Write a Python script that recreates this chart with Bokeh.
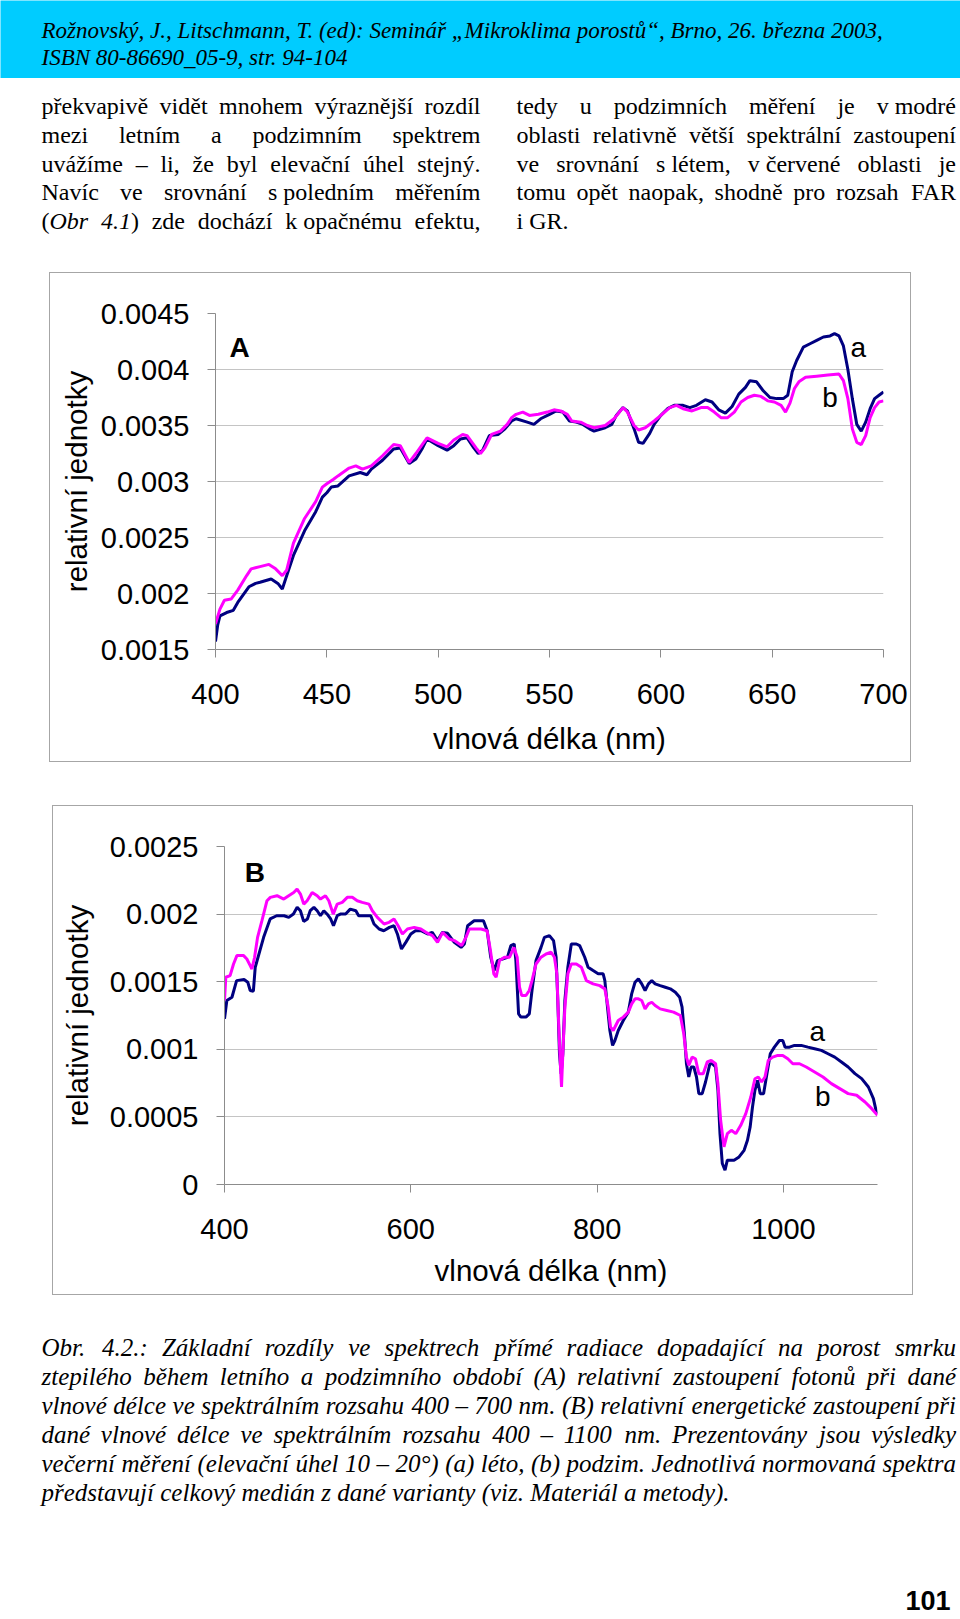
import unicodedata
from bokeh.plotting import figure
from bokeh.layouts import column, row
from bokeh.models import Range1d, FixedTicker, NumeralTickFormatter, Label, ColumnDataSource, Spacer
from bokeh.core.properties import value
from bokeh.embed import file_html
from bokeh.resources import INLINE

# ---------------- data: chart A (400-700 nm) ----------------
A_a_nm = [400, 401, 402, 405, 408, 410, 415, 418, 420, 425, 428, 430, 432, 435, 440, 445, 448, 450, 452, 455,
          460, 465, 468, 470, 475, 480, 483, 487, 490, 493, 495, 500, 504, 507, 510, 513, 516, 518, 520, 523,
          527, 530, 533, 535, 540, 543, 546, 550, 553, 556, 559, 562, 565, 568, 570, 575, 578, 580, 583, 585,
          588, 590, 592, 595, 597, 600, 603, 606, 610, 613, 616, 620, 623, 626, 629, 632, 635, 638, 640, 643,
          646, 649, 652, 655, 657, 659, 661, 664, 667, 670, 673, 676, 678, 680, 682, 684, 686, 688, 690, 692,
          694, 696, 698, 700]
A_a_val = [0.00157, 0.00172, 0.0018, 0.00183, 0.00185, 0.00192, 0.00206, 0.00209, 0.0021, 0.00213, 0.00209,
           0.00204, 0.00216, 0.00234, 0.00256, 0.00273, 0.00286, 0.0029, 0.00295, 0.00296, 0.00305, 0.00308,
           0.00306, 0.00311, 0.00319, 0.00329, 0.0033, 0.00316, 0.0032, 0.0033, 0.00338, 0.00332, 0.00328,
           0.00332, 0.00338, 0.00339, 0.0033, 0.00325, 0.00328, 0.00341, 0.00342, 0.00347, 0.00354, 0.00356,
           0.00353, 0.00351, 0.00356, 0.0036, 0.00363, 0.00362, 0.00354, 0.00353, 0.00351, 0.00347, 0.00345,
           0.00348, 0.00351, 0.00359, 0.00366, 0.00363, 0.00347, 0.00335, 0.00334, 0.00343, 0.00351, 0.00359,
           0.00365, 0.00368, 0.00368, 0.00366, 0.00368, 0.00373, 0.00371, 0.00364, 0.00361, 0.00367, 0.00378,
           0.00384, 0.0039, 0.00389, 0.00381, 0.00375, 0.00374, 0.00374, 0.00377, 0.00398, 0.00408, 0.0042,
           0.00423, 0.00426, 0.00429, 0.0043, 0.00432, 0.0043, 0.00421, 0.004, 0.00374, 0.00351, 0.00345,
           0.00353, 0.00365, 0.00374, 0.00377, 0.0038]
A_b_nm = [400, 402, 404, 407, 410, 414, 416, 420, 424, 427, 430, 432, 435, 440, 445, 448, 450, 453, 455, 460,
          463, 466, 470, 475, 480, 483, 487, 490, 495, 500, 504, 507, 511, 513, 517, 519, 521, 524, 528, 531,
          533, 535, 538, 541, 545, 549, 552, 555, 558, 560, 564, 567, 570, 575, 579, 583, 585, 588, 590, 593,
          597, 600, 604, 607, 610, 614, 618, 621, 624, 627, 630, 633, 636, 639, 642, 645, 648, 651, 654, 656,
          658, 660, 662, 665, 670, 675, 680, 682, 684, 686, 688, 690, 692, 694, 696, 698, 700]
A_b_val = [0.00173, 0.00186, 0.00194, 0.00195, 0.00203, 0.00216, 0.00222, 0.00224, 0.00226, 0.00222, 0.00216,
           0.00221, 0.00245, 0.00267, 0.00282, 0.00295, 0.00298, 0.00302, 0.00305, 0.00312, 0.00314, 0.00311,
           0.00314, 0.00323, 0.00333, 0.00332, 0.00317, 0.00325, 0.00339, 0.00334, 0.00331, 0.00337, 0.00342,
           0.00341, 0.0033, 0.00325, 0.0033, 0.00342, 0.00345, 0.00351, 0.00357, 0.0036, 0.00362, 0.00359,
           0.0036, 0.00362, 0.00364, 0.00363, 0.0036, 0.00354, 0.00353, 0.0035, 0.00348, 0.0035, 0.00356,
           0.00366, 0.00362, 0.0035, 0.00346, 0.00348, 0.00354, 0.00359, 0.00366, 0.00368, 0.00365, 0.00363,
           0.00366, 0.00366, 0.00362, 0.00357, 0.00357, 0.00362, 0.00371, 0.00375, 0.00377, 0.00376, 0.00372,
           0.00371, 0.00368, 0.00362, 0.0037, 0.00383, 0.00389, 0.00393, 0.00394, 0.00395, 0.00396, 0.0039,
           0.00374, 0.00347, 0.00335, 0.00333, 0.00341, 0.00357, 0.00366, 0.00371, 0.00372]

A_xticks = [400, 450, 500, 550, 600, 650, 700]
A_yticks = [0.0015, 0.002, 0.0025, 0.003, 0.0035, 0.004, 0.0045]
A_ylabels = ["0.0015", "0.002", "0.0025", "0.003", "0.0035", "0.004", "0.0045"]

# ---------------- data: chart B (400-1100 nm) ----------------
B_a_nm = [400, 402.5, 408, 413, 421, 425, 427.6, 431, 433, 438, 442, 449, 456, 464, 469, 474, 478, 481.5, 485,
          489, 492, 496, 499.5, 503, 506.6, 510, 514, 517, 521, 525, 530, 535, 541, 544, 550, 557, 560.5, 566,
          571, 577, 582, 585.6, 590, 594.6, 600, 605, 611, 618, 623, 628.7, 634, 639.5, 646.7, 654, 657.5, 661,
          668, 678, 682, 685.8, 689.4, 693, 698.4, 703.8, 707.4, 711, 712.8, 715.7, 718.2, 723.6, 727.2, 730.1,
          734.4, 739.8, 743.4, 748.8, 753.2, 756, 757.8, 759.6, 761.4, 763.2, 765.4, 768.6, 772.3, 777.7,
          781.3, 786.7, 790.3, 795.7, 801.1, 806.5, 808.3, 810.8, 813.7, 816.6, 819.1, 822.7, 828.1, 833.5,
          837.1, 840.7, 844.3, 847.9, 851.5, 855.1, 858.7, 862.3, 867.7, 873.2, 878.6, 884, 888.6, 891.2,
          893.7, 895.9, 898.4, 900.9, 903.8, 906.7, 909.2, 912.8, 916.4, 921.1, 923.6, 927.2, 929.7, 931.9,
          934.4, 937.3, 939.8, 943.4, 947, 952.4, 957.8, 961.4, 964.3, 966.8, 969.4, 972.3, 975.1, 978.7,
          982.3, 985.9, 990.3, 995.7, 999.3, 1001.8, 1006.5, 1011.9, 1019.1, 1026.3, 1033.5, 1040.7, 1047.9,
          1055.1, 1062.3, 1069.5, 1076.8, 1084, 1091.2, 1096.6, 1100.2]
B_a_val = [0.001225, 0.001361, 0.001385, 0.001508, 0.001516, 0.001496, 0.001435, 0.00143, 0.001607, 0.00173,
           0.001828, 0.001964, 0.001988, 0.001988, 0.001976, 0.002001, 0.00205, 0.002025, 0.001946, 0.001964,
           0.002025, 0.00205, 0.002025, 0.001988, 0.002025, 0.002001, 0.001964, 0.001914, 0.001988, 0.002001,
           0.002001, 0.002037, 0.002025, 0.001988, 0.001988, 0.001988, 0.001927, 0.00189, 0.001877, 0.001902,
           0.001914, 0.001853, 0.001742, 0.001791, 0.001853, 0.001877, 0.001877, 0.001853, 0.001865, 0.001804,
           0.001865, 0.001858, 0.001791, 0.001754, 0.001779, 0.001914, 0.001951, 0.001951, 0.001877, 0.001681,
           0.001582, 0.001656, 0.001668, 0.001681, 0.001767, 0.001779, 0.001656, 0.001262, 0.001238, 0.001238,
           0.001262, 0.001435, 0.001656, 0.001754, 0.001828, 0.001841, 0.001804, 0.001681, 0.001361, 0.000967,
           0.000819, 0.000967, 0.001361, 0.001607, 0.001779, 0.001779, 0.001767, 0.001681, 0.001607, 0.001582,
           0.001558, 0.001558, 0.001508, 0.001336, 0.001139, 0.001029, 0.001065, 0.001139, 0.001213, 0.001275,
           0.00141, 0.001496, 0.001521, 0.001484, 0.001435, 0.001484, 0.001508, 0.001484, 0.001471, 0.001459,
           0.001447, 0.001422, 0.001385, 0.001312, 0.001115, 0.000893, 0.000795, 0.000869, 0.000869, 0.000795,
           0.000672, 0.000672, 0.000758, 0.000893, 0.000893, 0.000869, 0.000696, 0.000376, 0.000155, 0.000106,
           0.00018, 0.00018, 0.00018, 0.000204, 0.000253, 0.000327, 0.000426, 0.000573, 0.000696, 0.00077,
           0.000672, 0.000672, 0.000819, 0.000967, 0.001016, 0.001065, 0.001065, 0.001016, 0.001016, 0.001029,
           0.001029, 0.001016, 0.001004, 0.000992, 0.000967, 0.000942, 0.000906, 0.000869, 0.00082, 0.000783,
           0.000721, 0.000635, 0.000524]
B_b_nm = [400, 401.4, 406, 409.7, 413.3, 420.5, 424, 427.6, 429.4, 432.3, 435.5, 440.2, 445.6, 449.2, 456.4,
          463.6, 468.9, 474.3, 477.9, 481.5, 485.1, 488.7, 494.1, 499.5, 503, 508.4, 512, 516.7, 521, 526.4,
          531.8, 537.2, 542.5, 547.9, 555.1, 558.7, 564.1, 571.3, 576.7, 582, 586.4, 591, 596.4, 603.6, 610.8,
          616.2, 623.3, 628.7, 634.1, 641.3, 646.7, 654.6, 659.2, 662.8, 668.2, 675.4, 681.9, 685.5, 689.1,
          691.6, 695.2, 700.6, 706, 710.7, 714.2, 716.7, 719, 723.6, 727.2, 730.1, 734.4, 739.8, 745.2, 750.6,
          754.2, 756.8, 758.9, 760.7, 761.8, 763.2, 765.4, 768.6, 772.3, 777.7, 783.1, 788.5, 795.7, 802.9,
          808.3, 811.9, 814.4, 817.3, 822.7, 828.1, 833.5, 837.1, 840.7, 844.3, 847.9, 851.5, 855.1, 858.7,
          862.3, 867.7, 874.9, 882.1, 889.4, 893, 895.9, 898.4, 902, 905.6, 909.2, 913.9, 918.2, 922.5, 927.2,
          929.7, 932.6, 936.2, 939.8, 944.1, 948.8, 954.2, 959.6, 965, 969.4, 973, 976.6, 980.2, 983.8, 988.5,
          993.9, 999.3, 1004.7, 1010.1, 1017.3, 1024.5, 1033.5, 1042.5, 1051.5, 1060.5, 1069.5, 1078.6,
          1087.6, 1094.8, 1101]
B_b_val = [0.001361, 0.001533, 0.001545, 0.001631, 0.001693, 0.001693, 0.001668, 0.001619, 0.001594, 0.001681,
           0.001828, 0.001951, 0.002099, 0.002124, 0.002136, 0.002111, 0.002136, 0.00216, 0.002185, 0.002148,
           0.002074, 0.002099, 0.00216, 0.002136, 0.002111, 0.002136, 0.002099, 0.002, 0.002074, 0.002087,
           0.002124, 0.002124, 0.002099, 0.002087, 0.002074, 0.002025, 0.001976, 0.001927, 0.001939, 0.001964,
           0.001914, 0.001853, 0.00189, 0.001902, 0.00189, 0.001865, 0.001841, 0.001791, 0.001865, 0.001816,
           0.001804, 0.001767, 0.001828, 0.00189, 0.00189, 0.00189, 0.001877, 0.00173, 0.001558, 0.001533,
           0.001656, 0.001681, 0.001681, 0.001754, 0.001681, 0.001459, 0.001398, 0.001398, 0.001435, 0.001508,
           0.001631, 0.001681, 0.001705, 0.001718, 0.001681, 0.001558, 0.001164, 0.000869, 0.000721, 0.000967,
           0.001312, 0.001558, 0.001631, 0.001631, 0.001607, 0.001508, 0.001484, 0.001471, 0.001447, 0.001312,
           0.001164, 0.001139, 0.001213, 0.001238, 0.001275, 0.001336, 0.001373, 0.001373, 0.001361, 0.001299,
           0.001336, 0.001348, 0.001324, 0.001299, 0.001287, 0.001275, 0.00125, 0.001115, 0.000942, 0.000881,
           0.000942, 0.00093, 0.000819, 0.000819, 0.000906, 0.000918, 0.000893, 0.000746, 0.000475, 0.000278,
           0.000376, 0.000401, 0.000376, 0.000438, 0.000524, 0.000647, 0.000782, 0.000795, 0.000758, 0.000795,
           0.000918, 0.000942, 0.000955, 0.000955, 0.00093, 0.000893, 0.000893, 0.000869, 0.000832, 0.000795,
           0.000746, 0.000709, 0.000672, 0.00066, 0.00061, 0.000561, 0.000512]

B_xticks = [400, 600, 800, 1000]
B_yticks = [0, 0.0005, 0.001, 0.0015, 0.002, 0.0025]
B_ylabels = ["0", "0.0005", "0.001", "0.0015", "0.002", "0.0025"]

# panel / series annotations: (text, x, y, bold)
A_notes = [("A", 410.8, 0.0042, True), ("a", 688.7, 0.004195, False), ("b", 676.0, 0.00375, False)]
B_notes = [("B", 432.5, 0.002306, True), ("a", 1036.3, 0.001135, False), ("b", 1042.3, 0.000651, False)]

X_TITLE = "vlnová délka (nm)"
Y_TITLE = "relativní jednotky"

# ---------------- page texts ----------------
HEADER = ["Rožnovský, J., Litschmann, T. (ed): Seminář „Mikroklima porostů“, Brno, 26. března 2003,",
          "ISBN 80-86690_05-9, str. 94-104"]
LEFT_COL = ["překvapivě vidět mnohem výraznější rozdíl",
            "mezi letním a podzimním spektrem",
            "uvážíme – li, že byl elevační úhel stejný.",
            "Navíc ve srovnání s\u00a0poledním měřením",
            "(*Obr* *4.1*) zde dochází k\u00a0opačnému efektu,"]
RIGHT_COL = ["tedy u podzimních měření je v\u00a0modré",
             "oblasti relativně větší spektrální zastoupení",
             "ve srovnání s\u00a0létem, v\u00a0červené oblasti je",
             "tomu opět naopak, shodně pro rozsah FAR",
             "i GR."]
CAPTION = ["Obr. 4.2.: Základní rozdíly ve spektrech přímé radiace dopadající na porost smrku",
           "ztepilého během letního a podzimního období (A) relativní zastoupení fotonů při dané",
           "vlnové délce ve spektrálním rozsahu 400 – 700 nm. (B) relativní energetické zastoupení při",
           "dané vlnové délce ve spektrálním rozsahu 400 – 1100 nm. Prezentovány jsou výsledky",
           "večerní měření (elevační úhel 10 – 20°) (a) léto, (b) podzim. Jednotlivá normovaná spektra",
           "představují celkový medián z dané varianty (viz. Materiál a metody)."]
PAGE_NO = "101"

# ---------------- styling ----------------
NAVY = "#000080"
MAGENTA = "#ff00ff"
GRID = "#c4c4c4"
AXIS = "#8c8c8c"
BOX = "#a6a6a6"
CYAN = "#00ccff"
SANS = "Liberation Sans"
SERIF = "Liberation Serif"
W = 960

# Times metrics (1/1000 em) used to justify the text lines
RM = {" ": 250, "\u00a0": 250, "(": 333, ")": 333, ",": 250, "-": 333, ".": 250, "/": 278, ":": 278, ";": 278,
      "_": 500, "–": 500, "„": 444, "“": 444, "°": 400,
      "A": 722, "B": 667, "C": 667, "D": 722, "E": 611, "F": 556, "G": 722, "H": 722, "I": 333, "J": 389,
      "K": 722, "L": 611, "M": 889, "N": 722, "O": 722, "P": 556, "Q": 722, "R": 667, "S": 556, "T": 611,
      "U": 722, "V": 722, "W": 944, "X": 722, "Y": 722, "Z": 611,
      "a": 444, "b": 500, "c": 444, "d": 500, "e": 444, "f": 333, "g": 500, "h": 500, "i": 278, "j": 278,
      "k": 500, "l": 278, "m": 778, "n": 500, "o": 500, "p": 500, "q": 500, "r": 333, "s": 389, "t": 278,
      "u": 500, "v": 500, "w": 722, "x": 500, "y": 500, "z": 444}
IT = {" ": 250, "\u00a0": 250, "(": 333, ")": 333, ",": 250, "-": 333, ".": 250, "/": 278, ":": 333, ";": 333,
      "_": 500, "–": 500, "„": 556, "“": 556, "°": 400,
      "A": 611, "B": 611, "C": 667, "D": 722, "E": 611, "F": 611, "G": 722, "H": 722, "I": 333, "J": 444,
      "K": 667, "L": 556, "M": 833, "N": 667, "O": 722, "P": 611, "Q": 722, "R": 611, "S": 500, "T": 556,
      "U": 722, "V": 611, "W": 833, "X": 611, "Y": 556, "Z": 556,
      "a": 500, "b": 500, "c": 444, "d": 500, "e": 444, "f": 278, "g": 500, "h": 500, "i": 278, "j": 278,
      "k": 444, "l": 278, "m": 722, "n": 500, "o": 500, "p": 500, "q": 500, "r": 389, "s": 389, "t": 278,
      "u": 500, "v": 444, "w": 667, "x": 444, "y": 444, "z": 389}


def tw(s, italic):
    tab = IT if italic else RM
    w = 0
    for ch in s:
        if ch in tab:
            w += tab[ch]
        elif ch.isdigit():
            w += 500
        else:
            w += tab.get(unicodedata.normalize("NFD", ch)[0], 500)
    return w / 1000.0


def segs(word, base_italic):
    out, cur, it = [], "", base_italic
    for ch in word:
        if ch == "*":
            if cur:
                out.append((cur, it))
            cur, it = "", not it
        else:
            cur += ch
    if cur:
        out.append((cur, it))
    return out


def place(p, lines, x0, x1, y0, pitch, size, base_italic, justify_last, justify=True):
    data = {}

    def put(it, align, x, y, t):
        d = data.setdefault((it, align), dict(x=[], y=[], t=[]))
        d["x"].append(x)
        d["y"].append(y)
        d["t"].append(t)

    for i, line in enumerate(lines):
        y = y0 + i * pitch
        if not justify:
            for s, it in segs(line, base_italic):
                put(it, "left", x0, y, s)
            continue
        words = [segs(w, base_italic) for w in line.split(" ")]
        widths = [sum(tw(s, it) * size for s, it in w) for w in words]
        just = ((i < len(lines) - 1) or justify_last) and len(words) > 1
        gap = (x1 - x0 - sum(widths)) / (len(words) - 1) if just else 0.25 * size
        x = x0
        for k, (w, wd) in enumerate(zip(words, widths)):
            if just and k == len(words) - 1 and len(w) == 1:
                put(w[0][1], "right", x1, y, w[0][0])
                continue
            xx = x
            for s, it in w:
                put(it, "left", xx, y, s)
                xx += tw(s, it) * size
            x += wd + gap
    for (it, align), d in data.items():
        p.text(x="x", y="y", text="t", source=ColumnDataSource(d), text_font=value(SERIF),
               text_font_size=value(f"{size}px"), text_font_style="italic" if it else "normal",
               text_color="black", text_baseline="alphabetic", text_align=align)


def page_fig(top, height, bg="white"):
    p = figure(width=W, height=height, x_range=Range1d(0, W), y_range=Range1d(top + height, top),
               output_backend="svg", toolbar_location=None, x_axis_location=None, y_axis_location=None,
               min_border=0, background_fill_color=bg, border_fill_color=bg, outline_line_color=None)
    p.grid.visible = False
    return p


# header bar
ph = page_fig(0, 78, CYAN)
place(ph, HEADER, 41, 930, 30, 27, 23, True, False, justify=False)

# body text
pt = page_fig(78, 194)
place(pt, LEFT_COL, 41, 480, 105.5, 28.8, 24, False, True)
place(pt, RIGHT_COL, 516, 955.5, 105.5, 28.8, 24, False, False)


def chart(xr, yr, xticks, yticks, ylabels, lines, notes, w, h, mb, ylab_standoff, xlab_standoff):
    p = figure(width=w, height=h, x_range=Range1d(*xr), y_range=Range1d(*yr), output_backend="svg",
               toolbar_location=None, min_border_left=mb[0], min_border_right=mb[1], min_border_top=mb[2],
               min_border_bottom=mb[3], outline_line_color=None, background_fill_color="white",
               styles={"border": f"1px solid {BOX}"})
    p.xaxis.ticker = FixedTicker(ticks=xticks)
    p.yaxis.ticker = FixedTicker(ticks=yticks)
    p.ygrid.ticker = FixedTicker(ticks=yticks)
    p.xgrid.visible = False
    p.ygrid.grid_line_color = GRID
    p.yaxis.formatter = NumeralTickFormatter(format="0.[0000]")
    p.yaxis.major_label_overrides = dict(zip(yticks, ylabels))
    p.xaxis.axis_label = X_TITLE
    p.yaxis.axis_label = Y_TITLE
    for ax in (p.xaxis[0], p.yaxis[0]):
        ax.axis_line_color = AXIS
        ax.major_tick_line_color = AXIS
        ax.minor_tick_line_color = None
        ax.major_tick_in = 0
        ax.major_tick_out = 8
        ax.major_label_text_font = SANS
        ax.major_label_text_font_size = "29px"
        ax.major_label_text_color = "black"
        ax.axis_label_text_font = SANS
        ax.axis_label_text_font_size = "29.5px"
        ax.axis_label_text_font_style = "normal"
        ax.axis_label_text_color = "black"
    p.xaxis.major_label_standoff = 26
    p.yaxis.major_label_standoff = 18
    p.xaxis.axis_label_standoff = xlab_standoff
    p.yaxis.axis_label_standoff = ylab_standoff
    for xs, ys, col in lines:
        p.line(xs, ys, line_color=col, line_width=3)
    for txt, x, y, bold in notes:
        p.add_layout(Label(x=x, y=y, text=txt, text_font=SANS, text_font_size="28px",
                           text_font_style="bold" if bold else "normal", text_color="black",
                           text_align="center", text_baseline="middle"))
    return p


pA = chart((400, 700), (0.0015, 0.0045), A_xticks, A_yticks, A_ylabels,
           [(A_a_nm, A_a_val, NAVY), (A_b_nm, A_b_val, MAGENTA)], A_notes, 862, 490, (165, 29, 40, 114), 5, 15)
pB = chart((400, 1101), (0, 0.0025), B_xticks, B_yticks, B_ylabels,
           [(B_a_nm, B_a_val, NAVY), (B_b_nm, B_b_val, MAGENTA)], B_notes, 861, 490, (171, 37, 40, 112), 13, 12)

# caption + page number
pc = page_fig(1297, 319)
place(pc, CAPTION, 41, 955.5, 1347, 28.9, 25, True, False)
pc.text(x=[950], y=[1600], text=[PAGE_NO], text_font=value(SANS), text_font_size=value("27px"),
        text_font_style="bold", text_align="right", text_baseline="alphabetic", text_color="black")

layout = column(ph, pt,
                row(Spacer(width=49, height=492), pA),
                Spacer(width=W, height=41),
                row(Spacer(width=52, height=492), pB),
                pc)

open("out.html", "w").write(file_html(layout, INLINE, "Obr. 4.2"))
